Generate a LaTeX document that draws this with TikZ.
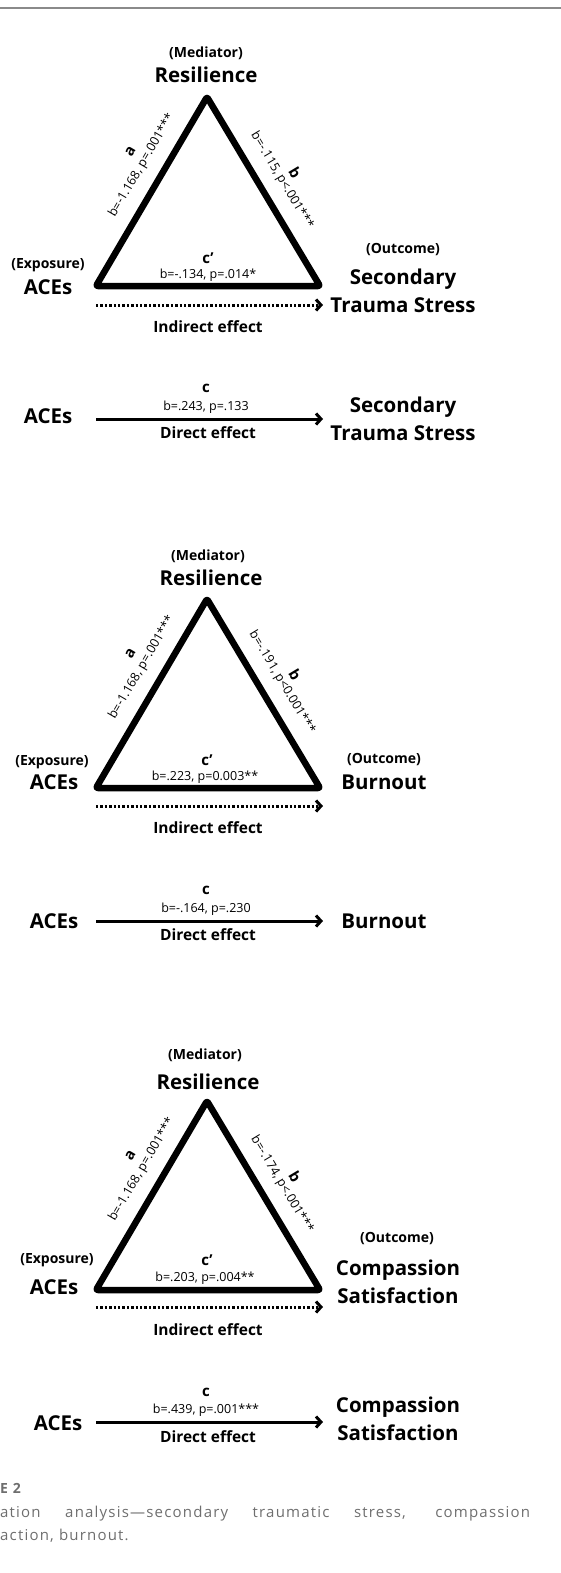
\documentclass[tikz,border=0pt]{standalone}
\usepackage{fontspec}
\setmainfont{Open Sans}
\newfontfamily\capfont[LetterSpace=8]{Open Sans}
\usetikzlibrary{arrows.meta}
\definecolor{capgray}{HTML}{6E6E6E}
\definecolor{rulegray}{HTML}{8A8A8A}
\newcommand\pathlbl[1]{{\bfseries\fontsize{15}{15}\selectfont#1}}

\begin{document}
\begin{tikzpicture}[x=1pt,y=-1pt,
  varname/.style={font=\bfseries\fontsize{20.5}{28.5}\selectfont,align=center,inner sep=0pt},
  tag/.style={font=\bfseries\fontsize{14}{16}\selectfont,inner sep=0pt},
  pathletter/.style={font=\bfseries\fontsize{15}{18}\selectfont,inner sep=0pt},
  coef/.style={font=\fontsize{12.5}{16}\selectfont,inner sep=0pt},
  effect/.style={font=\bfseries\fontsize{15.5}{18}\selectfont,inner sep=0pt},
  edgecoef/.style={coef,sloped,anchor=south,inner ysep=12pt,inner xsep=0pt,align=center},
  tri/.style={line width=6.5pt,line join=round,rounded corners=2pt},
  indirect/.style={line width=3pt,dash pattern=on 2.4pt off 2pt,-{Straight Barb[length=5pt,width=11pt]}},
  direct/.style={line width=3pt,-{Straight Barb[length=5pt,width=11pt]}},
  captext/.style={font=\capfont\fontsize{15}{18}\selectfont,text=capgray,inner sep=0pt,anchor=base west}]
  \useasboundingbox (0,0) rectangle (561,1573);
  \draw[rulegray,line width=1.5pt] (0,8) -- (561,8);

  % Secondary trauma stress
  \node[tag] (mt1) at (206,53) {(Mediator)};
  \node[varname] (m1) at (206,75) {Resilience};
  \node[tag] (xt1) at (48,265) {(Exposure)};
  \node[varname] (x1) at (48,287) {ACEs};
  \node[tag] (yt1) at (403,250) {(Outcome)};
  \node[varname] (y1) at (403,291) {Secondary\\Trauma Stress};
  \coordinate (tx1) at (96,286);
  \coordinate (tm1) at (207,97);
  \coordinate (ty1) at (320,286);
  \draw[tri] (tx1) -- node[edgecoef,pos=.58] {\pathlbl{\hspace*{12pt}a}\\b=-1.168, p=.001***} (tm1)
    -- node[edgecoef,pos=.5] {\pathlbl{b}\\[-3pt]b=-.115, p<.001***} (ty1) -- cycle;
  \node[pathletter] (c1) at (208,258) {c’};
  \node[coef] (cv1) at (208,275) {b=-.134, p=.014*};
  \coordinate (is1) at (96,305);
  \coordinate (ie1) at (323,305);
  \draw[indirect] (is1) -- (ie1);
  \node[effect] (il1) at (208,327) {Indirect effect};
  % direct path
  \node[varname] (dx1) at (48,416) {ACEs};
  \node[varname] (dy1) at (403,419) {Secondary\\Trauma Stress};
  \node[pathletter] (dc1) at (206,388) {c};
  \node[coef] (dv1) at (206,407) {b=.243, p=.133};
  \coordinate (ds1) at (96,419);
  \coordinate (de1) at (323,419);
  \draw[direct] (ds1) -- (de1);
  \node[effect] (dl1) at (208,433) {Direct effect};

  % Burnout
  \begin{scope}[yshift=-502pt]
  \node[tag] (mt2) at (208,54) {(Mediator)};
  \node[varname] (m2) at (211,76) {Resilience};
  \node[tag] (xt2) at (52,260) {(Exposure)};
  \node[varname] (x2) at (54,280) {ACEs};
  \node[tag] (yt2) at (384,258) {(Outcome)};
  \node[varname] (y2) at (384,280) {Burnout};
  \coordinate (tx2) at (96,286);
  \coordinate (tm2) at (207,97);
  \coordinate (ty2) at (320,286);
  \draw[tri] (tx2) -- node[edgecoef,pos=.58] {\pathlbl{\hspace*{12pt}a}\\b=-1.168, p=.001***} (tm2)
    -- node[edgecoef,pos=.5] {\pathlbl{b}\\[-3pt]b=-.191, p<0.001***} (ty2) -- cycle;
  \node[pathletter] (c2) at (207,258) {c’};
  \node[coef] (cv2) at (205,275) {b=.223, p=0.003**};
  \coordinate (is2) at (96,304);
  \coordinate (ie2) at (323,304);
  \draw[indirect] (is2) -- (ie2);
  \node[effect] (il2) at (208,326) {Indirect effect};
  % direct path
  \node[varname] (dx2) at (54,419) {ACEs};
  \node[varname] (dy2) at (384,419) {Burnout};
  \node[pathletter] (dc2) at (206,388) {c};
  \node[coef] (dv2) at (206,407) {b=-.164, p=.230};
  \coordinate (ds2) at (96,419);
  \coordinate (de2) at (323,419);
  \draw[direct] (ds2) -- (de2);
  \node[effect] (dl2) at (208,433) {Direct effect};
  \end{scope}

  % Compassion satisfaction
  \begin{scope}[yshift=-1004pt]
  \node[tag] (mt3) at (205,51) {(Mediator)};
  \node[varname] (m3) at (208,78) {Resilience};
  \node[tag] (xt3) at (57,256) {(Exposure)};
  \node[varname] (x3) at (54,283) {ACEs};
  \node[tag] (yt3) at (397,235) {(Outcome)};
  \node[varname] (y3) at (398,278) {Compassion\\Satisfaction};
  \coordinate (tx3) at (96,286);
  \coordinate (tm3) at (207,97);
  \coordinate (ty3) at (320,286);
  \draw[tri] (tx3) -- node[edgecoef,pos=.58] {\pathlbl{\hspace*{12pt}a}\\b=-1.168, p=.001***} (tm3)
    -- node[edgecoef,pos=.5] {\pathlbl{b}\\[-3pt]b=-.174, p<.001***} (ty3) -- cycle;
  \node[pathletter] (c3) at (207,256) {c’};
  \node[coef] (cv3) at (205,274) {b=.203, p=.004**};
  \coordinate (is3) at (96,303);
  \coordinate (ie3) at (323,303);
  \draw[indirect] (is3) -- (ie3);
  \node[effect] (il3) at (208,326) {Indirect effect};
  % direct path
  \node[varname] (dx3) at (58,419) {ACEs};
  \node[varname] (dy3) at (398,415) {Compassion\\Satisfaction};
  \node[pathletter] (dc3) at (206,388) {c};
  \node[coef] (dv3) at (206,406) {b=.439, p=.001***};
  \coordinate (ds3) at (96,418);
  \coordinate (de3) at (323,418);
  \draw[direct] (ds3) -- (de3);
  \node[effect] (dl3) at (208,433) {Direct effect};
  \end{scope}

  % Caption
  \node[captext,font=\capfont\bfseries\fontsize{14}{18}\selectfont] (fig) at (0,1493) {E 2};
  \node[captext] (cap1) at (0,1517) {\makebox[530pt][s]{ation analysis—secondary traumatic stress, compassion}};
  \node[captext] (cap2) at (0,1540) {action, burnout.};
\end{tikzpicture}
\end{document}
